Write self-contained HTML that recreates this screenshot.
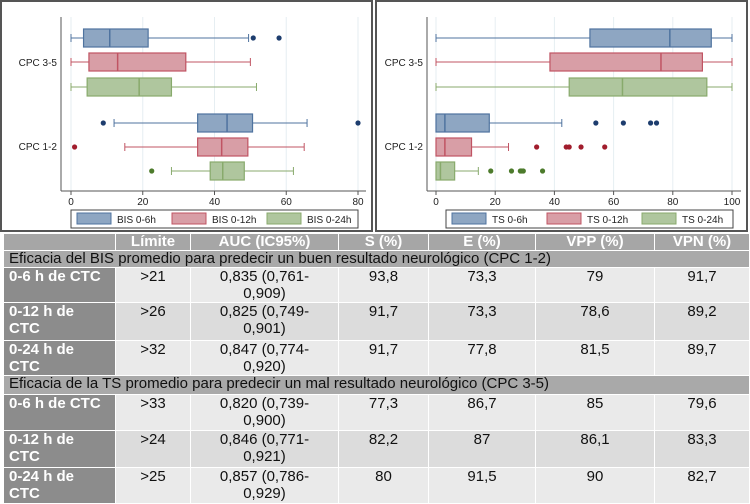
<!DOCTYPE html>
<html><head><meta charset="utf-8"><style>
body{margin:0;width:750px;height:500px;overflow:hidden;background:#fff;font-family:"Liberation Sans",sans-serif;}
#charts{position:absolute;left:0;top:0;width:750px;height:232px;}
table{position:absolute;left:3px;top:233px;width:747px;border-collapse:collapse;table-layout:fixed;font-family:"Liberation Sans",sans-serif;font-size:15px;}
td{border:1px solid #fff;padding:0 5px;vertical-align:top;line-height:17px;text-align:center;color:#111;overflow:hidden;white-space:nowrap;}
tr.hd td{background:#a6a6a6;color:#fff;font-weight:bold;height:16px;line-height:16px;}
tr.sec td{background:#a9a9a9;text-align:left;height:16px;color:#111;line-height:16px;}
td.first{background:#8c8c8c;color:#fff;font-weight:bold;text-align:left;}
tr.a td:not(.first){background:#eaeaea;}
tr.b td:not(.first){background:#dcdcdc;}
</style></head><body>
<svg id="charts" width="750" height="232" xmlns="http://www.w3.org/2000/svg"></svg>
<table>
<colgroup><col style="width:112px"><col style="width:75px"><col style="width:148px"><col style="width:90px"><col style="width:107px"><col style="width:119px"><col></colgroup>
<tr class="hd"><td></td><td>Límite</td><td>AUC (IC95%)</td><td>S (%)</td><td>E (%)</td><td>VPP (%)</td><td>VPN (%)</td></tr>
<tr class="sec"><td colspan="7">Eficacia del BIS promedio para predecir un buen resultado neurológico (CPC 1-2)</td></tr>
<tr class="a" style="height:35px"><td class="first">0-6 h de CTC</td><td>&gt;21</td><td>0,835 (0,761-<br>0,909)</td><td>93,8</td><td>73,3</td><td>79</td><td>91,7</td></tr>
<tr class="b" style="height:38px"><td class="first">0-12 h de<br>CTC</td><td>&gt;26</td><td>0,825 (0,749-<br>0,901)</td><td>91,7</td><td>73,3</td><td>78,6</td><td>89,2</td></tr>
<tr class="a" style="height:35px"><td class="first">0-24 h de<br>CTC</td><td>&gt;32</td><td>0,847 (0,774-<br>0,920)</td><td>91,7</td><td>77,8</td><td>81,5</td><td>89,7</td></tr>
<tr class="sec" style="height:19px"><td colspan="7">Eficacia de la TS promedio para predecir un mal resultado neurológico (CPC 3-5)</td></tr>
<tr class="a" style="height:36px"><td class="first">0-6 h de CTC</td><td>&gt;33</td><td>0,820 (0,739-<br>0,900)</td><td>77,3</td><td>86,7</td><td>85</td><td>79,6</td></tr>
<tr class="b" style="height:37px"><td class="first">0-12 h de<br>CTC</td><td>&gt;24</td><td>0,846 (0,771-<br>0,921)</td><td>82,2</td><td>87</td><td>86,1</td><td>83,3</td></tr>
<tr class="a" style="height:36px"><td class="first">0-24 h de<br>CTC</td><td>&gt;25</td><td>0,857 (0,786-<br>0,929)</td><td>80</td><td>91,5</td><td>90</td><td>82,7</td></tr>
</table>
<script>
// data: [whiskerLo, q1, median, q3, whiskerHi]
const bisStats=[[0,3.5,10.8,21.5,49.5],[0,5,13,32,50],[0,4.5,19,28,51.7],[12,35.3,43.5,50.6,65.8],[15,35.3,42,49.3,65],[28,38.8,42.3,48.3,62]];
const bisOutliers=[[50.8,58],[],[],[9,80],[1],[22.5]];
const bisTicks=[0,20,40,60,80];
const bisLegend=["BIS 0-6h","BIS 0-12h","BIS 0-24h"];
const tsStats=[[0,52,79,93,100],[0,38.5,76,90,100],[0,45,63,91.5,100],[0,0,3,18,42.5],[0,0,3,12,24.5],[0,0,1.5,6.3,14.3]];
const tsOutliers=[[],[],[],[54,63.3,72.5,74.5],[34,44,45,49,57],[18.5,25.5,28.5,29,29.5,36]];
const tsTicks=[0,20,40,60,80,100];
const tsLegend=["TS 0-6h","TS 0-12h","TS 0-24h"];
const groups=["CPC 3-5","CPC 1-2"];

const NS="http://www.w3.org/2000/svg";
const svg=document.getElementById('charts');
const fills=["#8ea6c2","#d89ea6","#afc69e"],strokes=["#4f739f","#c05463","#88aa6c"],dots=["#1d3d6e","#a11d2d","#4d7b2c"];
const rowY=[38,62,87,123,147,171];
function mk(t,a){const e=document.createElementNS(NS,t);for(const k in a)e.setAttribute(k,a[k]);svg.appendChild(e);return e;}
function panel(ox,spineX,x0,x1,vmax,stats,outs,ticks,legend,name){
  const sx=v=>x0+(v/vmax)*(x1-x0);
  let e=mk('rect',{x:ox+1,y:1,width:371,height:230,fill:'none',stroke:'#555','stroke-width':2});
  
  ticks.forEach(t=>{
    e=mk('line',{x1:sx(t),x2:sx(t),y1:17,y2:191,stroke:'#e6eef2','stroke-width':1});
    
    e=mk('line',{x1:sx(t),x2:sx(t),y1:191,y2:195,stroke:'#555'});
    
    e=mk('text',{x:sx(t),y:205,'text-anchor':'middle','font-size':10,fill:'#222'});e.textContent=t;
    
  });
  e=mk('line',{x1:spineX,x2:spineX,y1:17,y2:191,stroke:'#555'});
  
  e=mk('line',{x1:spineX,x2:ox+366,y1:191,y2:191,stroke:'#555'});
  
  groups.forEach((g,i)=>{
    e=mk('text',{x:spineX-4,y:i?150:66,'text-anchor':'end','font-size':10,fill:'#222'});e.textContent=g;
    
  });
  stats.forEach((s,i)=>{
    const y=rowY[i],c=i%3,h=9;
    e=mk('line',{x1:sx(s[0]),x2:sx(s[1]),y1:y,y2:y,stroke:strokes[c]});
    
    e=mk('line',{x1:sx(s[3]),x2:sx(s[4]),y1:y,y2:y,stroke:strokes[c]});
    
    [s[0],s[4]].forEach(v=>{e=mk('line',{x1:sx(v),x2:sx(v),y1:y-4,y2:y+4,stroke:strokes[c]});
      });
    e=mk('rect',{x:sx(s[1]),y:y-h,width:Math.max(1,sx(s[3])-sx(s[1])),height:2*h,fill:fills[c],stroke:strokes[c],'stroke-width':1.2});
    
    e=mk('line',{x1:sx(s[2]),x2:sx(s[2]),y1:y-h,y2:y+h,stroke:strokes[c],'stroke-width':1.5});
    
    outs[i].forEach(v=>{e=mk('circle',{cx:sx(v),cy:y,r:2.6,fill:dots[c]});
      });
  });
  e=mk('rect',{x:ox+71,y:210,width:287,height:18,fill:'#fff',stroke:'#444'});
  
  legend.forEach((l,i)=>{
    const lx=ox+77+i*95;
    e=mk('rect',{x:lx,y:213,width:34,height:11,fill:fills[i],stroke:strokes[i]});
    
    e=mk('text',{x:lx+40,y:223,'font-size':10,fill:'#222'});e.textContent=l;
    
  });
}
panel(0,61,71,358,80,bisStats,bisOutliers,bisTicks,bisLegend,'bis-chart');
panel(375,427,436,732,100,tsStats,tsOutliers,tsTicks,tsLegend,'ts-chart');
</script>
</body></html>
